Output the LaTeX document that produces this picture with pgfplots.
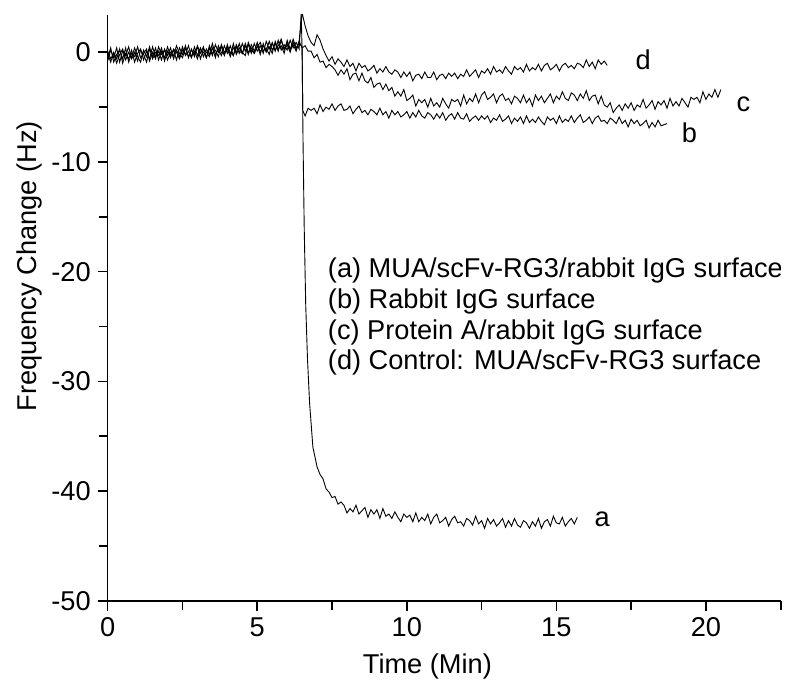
\documentclass[border=0pt]{standalone}
\usepackage{fontspec}
\setmainfont{Liberation Sans}
\usepackage{pgfplots}
\pgfplotsset{compat=1.18}

\begin{document}
\begin{tikzpicture}[font=\fontsize{13.6}{16}\selectfont]
\begin{axis}[
  at={(0pt,0pt)}, anchor=south west,
  scale only axis, width=336.5pt, height=292.85pt,
  xmin=0, xmax=22.5, ymin=-50, ymax=3.4,
  axis lines=left, axis line style={-, line width=0.8pt},
  xtick={0,5,10,15,20}, xticklabels={0,5,10,15,20},
  minor xtick={2.5,7.5,12.5,17.5,22.5},
  ytick={-50,-40,-30,-20,-10,0}, yticklabels={-50,-40,-30,-20,-10,0},
  minor ytick={-45,-35,-25,-15,-5},
  tick align=outside, major tick length=5pt, minor tick length=4.5pt,
  every tick/.style={black, line width=0.8pt},
  tick label style={font=\fontsize{13.6}{16}\selectfont},
  xlabel={Time (Min)}, ylabel={Frequency Change (Hz)},
  xlabel style={at={(axis description cs:0.475,-0.1236)}, anchor=base, inner sep=0pt},
  ylabel style={at={(axis description cs:-0.1156,0.571)}, anchor=center, inner sep=0pt},
  trace/.style={black, line width=0.45pt},
]

% (a) MUA/scFv-RG3/rabbit IgG
\addplot[trace] coordinates {
(0.0,-0.1)(0.1,-0.9)(0.2,0.0)(0.3,-0.6)(0.4,0.3)(0.5,-1.0)(0.6,-0.1)(0.7,-0.6)(0.8,0.2)(0.9,-0.9)
(1.0,-0.1)(1.1,0.3)(1.2,-0.7)(1.3,0.1)(1.4,-0.6)(1.5,0.5)(1.6,-0.4)(1.7,0.1)(1.8,-0.7)(1.9,0.3)
(2.0,-0.3)(2.1,0.4)(2.2,-0.6)(2.3,0.2)(2.4,-0.4)(2.5,0.5)(2.6,-0.3)(2.7,0.1)(2.8,-0.5)(2.9,0.5)
(3.0,-0.3)(3.1,0.4)(3.2,-0.4)(3.3,0.3)(3.4,-0.2)(3.5,0.8)(3.6,-0.2)(3.7,0.3)(3.8,-0.3)(3.9,0.6)
(4.0,-0.1)(4.1,0.6)(4.2,-0.3)(4.3,0.5)(4.4,-0.1)(4.5,0.8)(4.6,0.1)(4.7,0.7)(4.8,-0.1)(4.9,0.8)
(5.0,0.1)(5.1,0.6)(5.2,-0.1)(5.3,1.0)(5.4,0.3)(5.5,0.8)(5.6,0.1)(5.7,1.1)(5.8,0.2)(5.9,0.7)
(6.0,0.2)(6.1,1.1)(6.2,0.4)(6.3,0.9)(6.4,0.3)
(6.47,3.6)(6.50,0.0)(6.53,-8.0)(6.57,-16.0)(6.62,-23.0)(6.68,-28.0)(6.75,-32.0)(6.86,-36.0)
(7.0,-37.8)(7.1,-38.5)(7.2,-38.9)(7.3,-39.8)(7.4,-40.1)(7.5,-40.6)(7.6,-40.5)(7.7,-41.2)(7.8,-41.0)
(7.9,-41.3)(8.0,-42.0)(8.1,-41.6)(8.2,-41.9)(8.3,-41.3)(8.4,-42.1)(8.5,-41.8)(8.6,-41.5)(8.7,-42.4)(8.8,-41.7)
(8.9,-42.1)(9.0,-41.7)(9.1,-42.5)(9.2,-41.6)(9.3,-42.3)(9.4,-42.1)(9.5,-42.5)(9.6,-41.9)(9.7,-42.4)(9.8,-42.8)
(9.9,-42.1)(10.0,-42.4)(10.1,-42.2)(10.2,-42.8)(10.3,-42.0)(10.4,-42.8)(10.5,-42.4)(10.6,-42.7)(10.7,-42.1)(10.8,-43.0)
(10.9,-42.4)(11.0,-42.1)(11.1,-42.9)(11.2,-42.7)(11.3,-42.4)(11.4,-43.2)(11.5,-42.6)(11.6,-42.3)(11.7,-42.9)(11.8,-42.8)
(11.9,-43.2)(12.0,-42.5)(12.1,-42.7)(12.2,-43.1)(12.3,-42.3)(12.4,-43.0)(12.5,-42.7)(12.6,-43.4)(12.7,-42.5)(12.8,-43.0)
(12.9,-42.6)(13.0,-43.2)(13.1,-42.9)(13.2,-42.5)(13.3,-43.3)(13.4,-42.7)(13.5,-43.2)(13.6,-42.5)(13.7,-43.1)(13.8,-43.3)
(13.9,-42.7)(14.0,-42.9)(14.1,-43.4)(14.2,-42.8)(14.3,-43.2)(14.4,-42.5)(14.5,-43.4)(14.6,-42.8)(14.7,-42.6)(14.8,-43.2)
(14.9,-42.3)(15.0,-42.9)(15.1,-43.0)(15.2,-42.4)(15.3,-43.2)(15.4,-42.8)(15.5,-42.5)(15.6,-43.0)(15.7,-42.4)
};

% (b) Rabbit IgG
\addplot[trace] coordinates {
(0.0,-0.8)(0.1,0.2)(0.2,-0.5)(0.3,0.4)(0.4,-0.9)(0.5,0.1)(0.6,-0.3)(0.7,0.5)(0.8,-0.6)(0.9,0.0)
(1.0,-0.8)(1.1,0.2)(1.2,-0.2)(1.3,-0.9)(1.4,0.3)(1.5,-0.4)(1.6,0.4)(1.7,-0.7)(1.8,0.1)(1.9,-0.5)
(2.0,0.5)(2.1,-0.3)(2.2,0.2)(2.3,-0.7)(2.4,0.4)(2.5,-0.2)(2.6,0.6)(2.7,-0.5)(2.8,0.3)(2.9,-0.4)
(3.0,0.6)(3.1,-0.1)(3.2,0.5)(3.3,-0.5)(3.4,0.4)(3.5,-0.3)(3.6,0.7)(3.7,0.0)(3.8,0.5)(3.9,-0.3)
(4.0,0.7)(4.1,-0.2)(4.2,0.4)(4.3,0.0)(4.4,0.8)(4.5,-0.1)(4.6,0.6)(4.7,-0.2)(4.8,0.7)(4.9,0.1)
(5.0,0.9)(5.1,0.0)(5.2,0.6)(5.3,0.1)(5.4,1.0)(5.5,0.2)(5.6,0.8)(5.7,0.1)(5.8,1.1)(5.9,0.3)
(6.0,0.9)(6.1,0.2)(6.2,1.2)(6.3,0.4)(6.4,0.8)(6.5,0.5)(6.52,-5.3)
(6.6,-5.8)(6.7,-5.1)(6.8,-5.3)(6.9,-5.1)(7.0,-5.6)(7.1,-4.8)(7.2,-5.4)(7.3,-5.0)(7.4,-5.2)(7.5,-4.7)
(7.6,-5.3)(7.7,-4.9)(7.8,-4.7)(7.9,-5.3)(8.0,-5.2)(8.1,-4.9)(8.2,-5.6)(8.3,-5.2)(8.4,-4.9)(8.5,-5.5)
(8.6,-5.3)(8.7,-5.7)(8.8,-5.2)(8.9,-5.4)(9.0,-5.7)(9.1,-5.1)(9.2,-5.7)(9.3,-5.4)(9.4,-6.0)(9.5,-5.3)
(9.6,-5.7)(9.7,-5.4)(9.8,-5.9)(9.9,-5.7)(10.0,-5.4)(10.1,-6.0)(10.2,-5.5)(10.3,-5.9)(10.4,-5.3)(10.5,-5.8)
(10.6,-6.0)(10.7,-5.5)(10.8,-5.7)(10.9,-6.1)(11.0,-5.6)(11.1,-6.0)(11.2,-5.5)(11.3,-6.2)(11.4,-5.8)(11.5,-5.6)
(11.6,-6.1)(11.7,-5.5)(11.8,-6.0)(11.9,-6.1)(12.0,-5.6)(12.1,-6.3)(12.2,-6.0)(12.3,-5.8)(12.4,-6.2)(12.5,-5.8)
(12.6,-6.1)(12.7,-5.8)(12.8,-6.4)(12.9,-6.0)(13.0,-6.2)(13.1,-5.7)(13.2,-6.3)(13.3,-6.1)(13.4,-5.8)(13.5,-6.5)
(13.6,-6.0)(13.7,-6.3)(13.8,-5.9)(13.9,-6.5)(14.0,-5.8)(14.1,-6.4)(14.2,-6.1)(14.3,-6.4)(14.4,-5.9)(14.5,-6.3)
(14.6,-6.6)(14.7,-5.9)(14.8,-6.2)(14.9,-6.0)(15.0,-6.5)(15.1,-5.8)(15.2,-6.4)(15.3,-6.1)(15.4,-6.3)(15.5,-5.8)
(15.6,-6.4)(15.7,-6.0)(15.8,-5.7)(15.9,-6.4)(16.0,-6.2)(16.1,-5.9)(16.2,-6.5)(16.3,-6.0)(16.4,-5.8)(16.5,-6.3)
(16.6,-6.2)(16.7,-6.5)(16.8,-6.0)(16.9,-6.2)(17.0,-6.5)(17.1,-5.9)(17.2,-6.5)(17.3,-6.2)(17.4,-6.8)(17.5,-6.1)
(17.6,-6.5)(17.7,-6.2)(17.8,-6.7)(17.9,-6.5)(18.0,-6.2)(18.1,-6.9)(18.2,-6.4)(18.3,-6.8)(18.4,-6.2)(18.5,-6.7)
(18.6,-6.6)(18.7,-6.5)
};

% (c) Protein A/rabbit IgG
\addplot[trace] coordinates {
(0.0,0.1)(0.1,-0.6)(0.2,-0.1)(0.3,-1.0)(0.4,-0.2)(0.5,0.3)(0.6,-0.7)(0.7,0.0)(0.8,-0.5)(0.9,0.4)
(1.0,-0.4)(1.1,-0.9)(1.2,0.2)(1.3,-0.4)(1.4,0.5)(1.5,-0.6)(1.6,0.0)(1.7,-0.3)(1.8,0.4)(1.9,-0.8)
(2.0,0.1)(2.1,-0.5)(2.2,0.3)(2.3,0.0)(2.4,-0.6)(2.5,0.2)(2.6,-0.2)(2.7,0.6)(2.8,-0.4)(2.9,0.1)
(3.0,-0.6)(3.1,0.3)(3.2,0.0)(3.3,-0.5)(3.4,0.6)(3.5,-0.1)(3.6,0.2)(3.7,-0.4)(3.8,0.7)(3.9,0.0)
(4.0,0.3)(4.1,-0.4)(4.2,0.8)(4.3,-0.2)(4.4,0.4)(4.5,0.0)(4.6,-0.3)(4.7,0.9)(4.8,0.2)(4.9,-0.1)
(5.0,0.6)(5.1,-0.2)(5.2,0.8)(5.3,0.0)(5.4,0.5)(5.5,-0.1)(5.6,1.0)(5.7,0.3)(5.8,0.6)(5.9,-0.1)
(6.0,1.1)(6.1,0.3)(6.2,0.7)(6.3,0.1)(6.4,1.0)
(6.5,0.4)(6.6,0.6)(6.7,0.1)(6.8,0.1)(6.9,-0.5)(7.0,-0.2)(7.1,-0.9)(7.2,-0.8)(7.3,-1.4)(7.4,-1.1)
(7.5,-1.3)(7.6,-1.6)(7.7,-2.1)(7.8,-1.6)(7.9,-2.0)(8.0,-1.5)(8.1,-2.5)(8.2,-2.0)(8.3,-1.9)(8.4,-2.6)
(8.5,-1.9)(8.6,-2.6)(8.7,-2.8)(8.8,-2.3)(8.9,-3.2)(9.0,-2.9)(9.1,-2.8)(9.2,-3.4)(9.3,-2.9)(9.4,-3.5)
(9.5,-3.2)(9.6,-4.0)(9.7,-3.6)(9.8,-4.0)(9.9,-3.4)(10.0,-4.4)(10.1,-4.2)(10.2,-3.9)(10.3,-4.9)(10.4,-4.3)
(10.5,-4.6)(10.6,-4.3)(10.7,-5.0)(10.8,-4.2)(10.9,-4.9)(11.0,-4.6)(11.1,-5.0)(11.2,-4.2)(11.3,-4.7)(11.4,-5.1)
(11.5,-4.3)(11.6,-4.5)(11.7,-4.3)(11.8,-4.9)(11.9,-3.9)(12.0,-4.7)(12.1,-4.2)(12.2,-4.5)(12.3,-3.8)(12.4,-4.6)
(12.5,-3.9)(12.6,-3.6)(12.7,-4.3)(12.8,-4.1)(12.9,-3.8)(13.0,-4.6)(13.1,-4.0)(13.2,-3.8)(13.3,-4.4)(13.4,-4.2)
(13.5,-4.7)(13.6,-4.0)(13.7,-4.2)(13.8,-4.6)(13.9,-3.9)(14.0,-4.6)(14.1,-4.2)(14.2,-4.9)(14.3,-3.9)(14.4,-4.4)
(14.5,-4.0)(14.6,-4.6)(14.7,-4.2)(14.8,-3.8)(14.9,-4.6)(15.0,-4.0)(15.1,-4.3)(15.2,-3.6)(15.3,-4.2)(15.4,-4.4)
(15.5,-3.7)(15.6,-3.9)(15.7,-4.4)(15.8,-3.8)(15.9,-4.2)(16.0,-3.5)(16.1,-4.4)(16.2,-4.0)(16.3,-3.9)(16.4,-4.7)
(16.5,-4.0)(16.6,-4.8)(16.7,-5.0)(16.8,-4.6)(16.9,-5.5)(17.0,-5.1)(17.1,-4.8)(17.2,-5.3)(17.3,-4.7)(17.4,-5.1)
(17.5,-4.6)(17.6,-5.3)(17.7,-4.8)(17.8,-5.0)(17.9,-4.3)(18.0,-5.1)(18.1,-4.8)(18.2,-4.4)(18.3,-5.2)(18.4,-4.5)
(18.5,-4.8)(18.6,-4.4)(18.7,-5.1)(18.8,-4.2)(18.9,-4.9)(19.0,-4.5)(19.1,-4.9)(19.2,-4.2)(19.3,-4.6)(19.4,-5.0)
(19.5,-4.1)(19.6,-4.3)(19.7,-4.1)(19.8,-4.6)(19.9,-3.6)(20.0,-4.3)(20.1,-3.8)(20.2,-4.1)(20.3,-3.4)(20.4,-4.1)
(20.5,-3.4)
};

% (d) Control: MUA/scFv-RG3
\addplot[trace] coordinates {
(0.0,-0.5)(0.1,0.4)(0.2,-0.9)(0.3,-0.2)(0.4,0.2)(0.5,-0.6)(0.6,0.4)(0.7,-0.9)(0.8,-0.1)(0.9,-0.4)
(1.0,0.5)(1.1,-0.5)(1.2,-0.1)(1.3,0.3)(1.4,-0.8)(1.5,0.0)(1.6,-0.6)(1.7,0.5)(1.8,-0.2)(1.9,0.2)
(2.0,-0.7)(2.1,0.0)(2.2,-0.3)(2.3,0.6)(2.4,-0.1)(2.5,-0.5)(2.6,0.4)(2.7,-0.4)(2.8,0.2)(2.9,-0.2)
(3.0,0.5)(3.1,-0.6)(3.2,0.3)(3.3,0.0)(3.4,-0.4)(3.5,0.4)(3.6,-0.5)(3.7,0.6)(3.8,0.0)(3.9,-0.2)
(4.0,0.5)(4.1,0.0)(4.2,-0.3)(4.3,0.7)(4.4,0.1)(4.5,-0.1)(4.6,0.8)(4.7,0.0)(4.8,0.4)(4.9,-0.1)
(5.0,0.5)(5.1,0.9)(5.2,0.1)(5.3,0.4)(5.4,-0.2)(5.5,0.9)(5.6,0.2)(5.7,0.6)(5.8,1.2)(5.9,0.2)
(6.0,0.7)(6.1,0.0)(6.2,0.9)(6.3,0.3)(6.4,1.0)
(6.5,3.6)(6.6,2.4)(6.7,1.5)(6.8,0.9)(6.9,0.6)(7.0,1.6)(7.1,1.1)(7.2,0.3)(7.3,-0.3)(7.4,-0.8)(7.5,-0.4)
(7.6,-1.1)(7.7,-0.6)(7.8,-0.9)(7.9,-1.3)(8.0,-0.7)(8.1,-1.3)(8.2,-1.0)(8.3,-1.7)(8.4,-1.0)(8.5,-1.4)
(8.6,-1.2)(8.7,-1.7)(8.8,-1.5)(8.9,-1.2)(9.0,-1.9)(9.1,-1.5)(9.2,-1.8)(9.3,-1.3)(9.4,-1.8)(9.5,-2.0)
(9.6,-1.6)(9.7,-1.8)(9.8,-2.3)(9.9,-1.8)(10.0,-2.2)(10.1,-1.8)(10.2,-2.6)(10.3,-2.1)(10.4,-2.0)(10.5,-2.4)
(10.6,-1.8)(10.7,-2.3)(10.8,-2.3)(10.9,-1.8)(11.0,-2.5)(11.1,-2.1)(11.2,-2.0)(11.3,-2.4)(11.4,-1.9)(11.5,-2.2)
(11.6,-1.9)(11.7,-2.4)(11.8,-2.0)(11.9,-2.2)(12.0,-1.6)(12.1,-2.2)(12.2,-1.9)(12.3,-1.6)(12.4,-2.3)(12.5,-1.7)
(12.6,-1.9)(12.7,-1.5)(12.8,-2.0)(12.9,-1.3)(13.0,-1.8)(13.1,-1.6)(13.2,-1.9)(13.3,-1.3)(13.4,-1.7)(13.5,-2.0)
(13.6,-1.3)(13.7,-1.6)(13.8,-1.4)(13.9,-1.8)(14.0,-1.1)(14.1,-1.7)(14.2,-1.4)(14.3,-1.6)(14.4,-1.1)(14.5,-1.7)
(14.6,-1.2)(14.7,-1.0)(14.8,-1.6)(14.9,-1.4)(15.0,-1.1)(15.1,-1.7)(15.2,-1.2)(15.3,-1.0)(15.4,-1.4)(15.5,-1.2)
(15.6,-1.5)(15.7,-1.0)(15.8,-1.1)(15.9,-1.4)(16.0,-0.7)(16.1,-1.3)(16.2,-0.9)(16.3,-1.5)(16.4,-0.7)(16.5,-1.1)
(16.6,-0.8)(16.7,-1.2)
};

% legend text
\node[anchor=west, inner sep=0pt] at (axis cs:7.35,-19.9) {(a) MUA/scFv-RG3/rabbit IgG surface};
\node[anchor=west, inner sep=0pt] at (axis cs:7.35,-22.7) {(b) Rabbit IgG surface};
\node[anchor=west, inner sep=0pt] at (axis cs:7.35,-25.5) {(c) Protein A/rabbit IgG surface};
\node[anchor=west, inner sep=0pt] at (axis cs:7.35,-28.3) {(d) Control: MUA/scFv-RG3 surface};

% curve labels
\node at (axis cs:16.53,-42.6) {a};
\node at (axis cs:19.45,-7.35) {b};
\node at (axis cs:21.25,-4.7) {c};
\node at (axis cs:17.9,-0.7) {d};
\end{axis}
\pgfresetboundingbox
\path[use as bounding box] (-53.85pt,-40.15pt) rectangle (340.15pt,300.35pt);
\end{tikzpicture}
\end{document}
